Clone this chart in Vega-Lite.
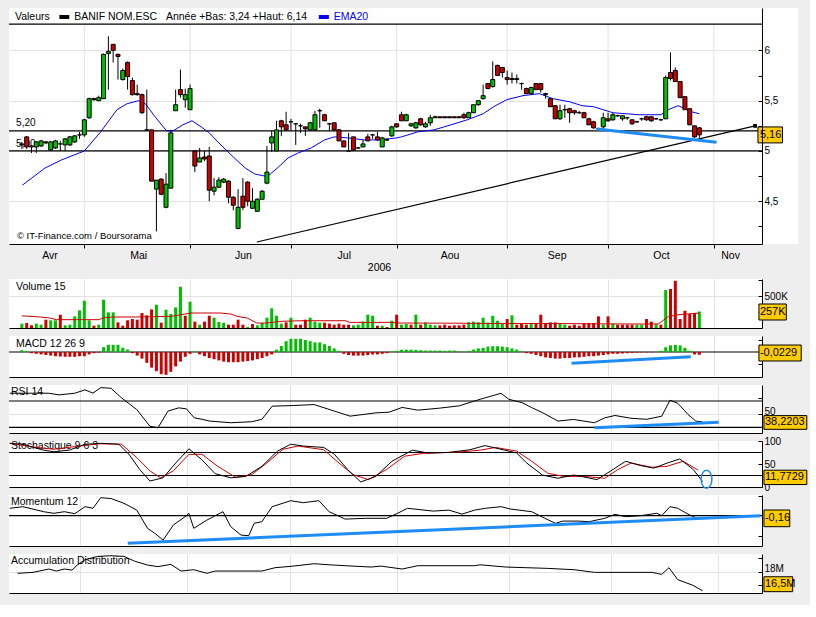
{
"$schema":"https://vega.github.io/schema/vega-lite/v6.json",
"background":"#EEEEEE",
"padding":{"left":7,"top":8,"right":2,"bottom":12},
"config":{"view":{"fill":"white","stroke":null},"font":"Liberation Sans",
"axis":{"labelFont":"Liberation Sans","labelFontSize":10,"labelColor":"black","domainColor":"black","tickColor":"black","gridColor":"#E2E2E2","titleFont":"Liberation Sans","titleFontSize":10.5,"titleFontWeight":"normal","titleColor":"black"},
"text":{"font":"Liberation Sans","fontSize":10.5,"color":"black"}},
"datasets":{
"months":[{"i":13},{"i":35},{"i":56},{"i":78},{"i":101},{"i":122},{"i":144}],
"d":[
{"i":0,"o":5.06,"h":5.09,"l":5.02,"c":5.07,"v":68,"m":0.015},
{"i":1,"o":5.14,"h":5.15,"l":5.02,"c":5.04,"v":78,"m":0.008},
{"i":2,"o":5.05,"h":5.06,"l":4.98,"c":5.04,"v":42,"m":-0.01},
{"i":3,"o":5.04,"h":5.10,"l":4.98,"c":5.09,"v":68,"m":-0.015},
{"i":4,"o":5.05,"h":5.11,"l":5.04,"c":5.10,"v":52,"m":-0.02},
{"i":5,"o":5.09,"h":5.10,"l":5.07,"c":5.08,"v":130,"m":-0.025},
{"i":6,"o":5.01,"h":5.10,"l":5.00,"c":5.09,"v":120,"m":-0.03},
{"i":7,"o":5.03,"h":5.11,"l":5.02,"c":5.10,"v":120,"m":-0.035},
{"i":8,"o":5.07,"h":5.10,"l":5.00,"c":5.07,"v":208,"m":-0.038},
{"i":9,"o":5.06,"h":5.13,"l":5.00,"c":5.12,"v":42,"m":-0.04},
{"i":10,"o":5.06,"h":5.15,"l":5.05,"c":5.14,"v":52,"m":-0.04},
{"i":11,"o":5.09,"h":5.16,"l":5.08,"c":5.15,"v":182,"m":-0.04},
{"i":12,"o":5.16,"h":5.19,"l":5.12,"c":5.16,"v":276,"m":-0.035},
{"i":13,"o":5.16,"h":5.32,"l":5.14,"c":5.31,"v":426,"m":-0.035},
{"i":14,"o":5.33,"h":5.53,"l":5.32,"c":5.52,"v":120,"m":-0.02},
{"i":15,"o":5.52,"h":5.53,"l":5.50,"c":5.51,"v":36,"m":-0.01},
{"i":16,"o":5.50,"h":5.55,"l":5.50,"c":5.53,"v":52,"m":-0.005},
{"i":17,"o":5.52,"h":5.97,"l":5.52,"c":5.96,"v":442,"m":0.04},
{"i":18,"o":5.97,"h":6.14,"l":5.61,"c":5.99,"v":244,"m":0.06},
{"i":19,"o":6.06,"h":6.06,"l":5.88,"c":6.00,"v":244,"m":0.06},
{"i":20,"o":5.96,"h":5.97,"l":5.71,"c":5.94,"v":88,"m":0.06},
{"i":21,"o":5.71,"h":5.82,"l":5.70,"c":5.80,"v":36,"m":0.035},
{"i":22,"o":5.88,"h":5.89,"l":5.61,"c":5.74,"v":120,"m":0.02},
{"i":23,"o":5.70,"h":5.73,"l":5.55,"c":5.56,"v":140,"m":-0.01},
{"i":24,"o":5.57,"h":5.66,"l":5.55,"c":5.56,"v":130,"m":-0.03},
{"i":25,"o":5.56,"h":5.57,"l":5.37,"c":5.38,"v":234,"m":-0.055},
{"i":26,"o":5.21,"h":5.61,"l":5.20,"c":5.21,"v":198,"m":-0.09},
{"i":27,"o":5.21,"h":5.21,"l":4.70,"c":4.70,"v":291,"m":-0.13},
{"i":28,"o":4.62,"h":4.71,"l":4.20,"c":4.71,"v":364,"m":-0.16},
{"i":29,"o":4.72,"h":4.73,"l":4.56,"c":4.57,"v":83,"m":-0.185},
{"i":30,"o":4.44,"h":4.78,"l":4.43,"c":4.67,"v":286,"m":-0.19},
{"i":31,"o":4.63,"h":5.21,"l":4.63,"c":5.18,"v":218,"m":-0.165},
{"i":32,"o":5.40,"h":5.61,"l":5.40,"c":5.46,"v":322,"m":-0.12},
{"i":33,"o":5.61,"h":5.81,"l":5.53,"c":5.56,"v":645,"m":-0.08},
{"i":34,"o":5.51,"h":5.62,"l":5.43,"c":5.56,"v":192,"m":-0.04},
{"i":35,"o":5.41,"h":5.66,"l":5.41,"c":5.62,"v":411,"m":-0.015},
{"i":36,"o":5.00,"h":5.00,"l":4.79,"c":4.85,"v":99,"m":0.005},
{"i":37,"o":4.89,"h":5.03,"l":4.89,"c":4.93,"v":52,"m":-0.02},
{"i":38,"o":4.94,"h":5.00,"l":4.90,"c":4.92,"v":99,"m":-0.035},
{"i":39,"o":4.95,"h":5.04,"l":4.50,"c":4.61,"v":192,"m":-0.05},
{"i":40,"o":4.60,"h":4.73,"l":4.56,"c":4.64,"v":161,"m":-0.06},
{"i":41,"o":4.64,"h":4.74,"l":4.63,"c":4.71,"v":94,"m":-0.07},
{"i":42,"o":4.69,"h":4.73,"l":4.68,"c":4.72,"v":83,"m":-0.08},
{"i":43,"o":4.70,"h":4.71,"l":4.48,"c":4.54,"v":52,"m":-0.085},
{"i":44,"o":4.54,"h":4.55,"l":4.41,"c":4.46,"v":52,"m":-0.085},
{"i":45,"o":4.23,"h":4.62,"l":4.22,"c":4.44,"v":130,"m":-0.085},
{"i":46,"o":4.55,"h":4.73,"l":4.41,"c":4.44,"v":52,"m":-0.08},
{"i":47,"o":4.69,"h":4.70,"l":4.45,"c":4.50,"v":16,"m":-0.075},
{"i":48,"o":4.43,"h":4.63,"l":4.43,"c":4.50,"v":62,"m":-0.07},
{"i":49,"o":4.40,"h":4.53,"l":4.40,"c":4.52,"v":42,"m":-0.06},
{"i":50,"o":4.52,"h":4.61,"l":4.52,"c":4.60,"v":78,"m":-0.05},
{"i":51,"o":4.68,"h":5.05,"l":4.67,"c":4.79,"v":161,"m":-0.035},
{"i":52,"o":5.08,"h":5.20,"l":4.99,"c":5.14,"v":307,"m":-0.02},
{"i":53,"o":5.00,"h":5.30,"l":5.00,"c":5.21,"v":192,"m":0.02},
{"i":54,"o":5.30,"h":5.31,"l":5.15,"c":5.24,"v":68,"m":0.05},
{"i":55,"o":5.26,"h":5.39,"l":5.20,"c":5.21,"v":88,"m":0.09},
{"i":56,"o":5.29,"h":5.32,"l":5.20,"c":5.29,"v":161,"m":0.11},
{"i":57,"o":5.27,"h":5.27,"l":5.06,"c":5.27,"v":52,"m":0.11},
{"i":58,"o":5.25,"h":5.27,"l":5.18,"c":5.25,"v":52,"m":0.11},
{"i":59,"o":5.24,"h":5.24,"l":5.15,"c":5.22,"v":130,"m":0.10},
{"i":60,"o":5.21,"h":5.29,"l":5.20,"c":5.28,"v":161,"m":0.09},
{"i":61,"o":5.21,"h":5.40,"l":5.20,"c":5.36,"v":99,"m":0.08},
{"i":62,"o":5.40,"h":5.42,"l":5.23,"c":5.40,"v":83,"m":0.08},
{"i":63,"o":5.36,"h":5.37,"l":5.30,"c":5.30,"v":83,"m":0.065},
{"i":64,"o":5.27,"h":5.28,"l":5.20,"c":5.27,"v":68,"m":0.05},
{"i":65,"o":5.28,"h":5.28,"l":5.20,"c":5.21,"v":52,"m":0.03},
{"i":66,"o":5.21,"h":5.22,"l":5.10,"c":5.10,"v":68,"m":0.01},
{"i":67,"o":5.10,"h":5.10,"l":5.04,"c":5.04,"v":52,"m":-0.015},
{"i":68,"o":5.00,"h":5.18,"l":5.00,"c":5.00,"v":52,"m":-0.025},
{"i":69,"o":5.14,"h":5.14,"l":5.00,"c":5.01,"v":42,"m":-0.03},
{"i":70,"o":5.03,"h":5.04,"l":5.02,"c":5.03,"v":52,"m":-0.03},
{"i":71,"o":5.04,"h":5.11,"l":5.04,"c":5.07,"v":99,"m":-0.03},
{"i":72,"o":5.14,"h":5.17,"l":5.10,"c":5.10,"v":208,"m":-0.025},
{"i":73,"o":5.16,"h":5.17,"l":5.12,"c":5.16,"v":192,"m":-0.02},
{"i":74,"o":5.14,"h":5.19,"l":5.10,"c":5.11,"v":36,"m":-0.02},
{"i":75,"o":5.04,"h":5.14,"l":5.04,"c":5.13,"v":36,"m":-0.015},
{"i":76,"o":5.11,"h":5.13,"l":5.10,"c":5.11,"v":16,"m":-0.01},
{"i":77,"o":5.15,"h":5.25,"l":5.14,"c":5.24,"v":114,"m":0.005},
{"i":78,"o":5.27,"h":5.27,"l":5.23,"c":5.24,"v":208,"m":0.01},
{"i":79,"o":5.36,"h":5.39,"l":5.30,"c":5.30,"v":52,"m":0.018},
{"i":80,"o":5.30,"h":5.37,"l":5.30,"c":5.36,"v":62,"m":0.02},
{"i":81,"o":5.25,"h":5.28,"l":5.24,"c":5.27,"v":52,"m":0.02},
{"i":82,"o":5.23,"h":5.29,"l":5.22,"c":5.28,"v":208,"m":0.018},
{"i":83,"o":5.32,"h":5.33,"l":5.25,"c":5.26,"v":52,"m":0.015},
{"i":84,"o":5.24,"h":5.29,"l":5.23,"c":5.27,"v":83,"m":0.012},
{"i":85,"o":5.28,"h":5.36,"l":5.25,"c":5.33,"v":52,"m":0.012},
{"i":86,"o":5.33,"h":5.35,"l":5.33,"c":5.34,"v":42,"m":0.012},
{"i":87,"o":5.34,"h":5.34,"l":5.33,"c":5.33,"v":42,"m":0.012},
{"i":88,"o":5.34,"h":5.34,"l":5.33,"c":5.33,"v":52,"m":0.01},
{"i":89,"o":5.34,"h":5.34,"l":5.33,"c":5.33,"v":36,"m":0.012},
{"i":90,"o":5.34,"h":5.34,"l":5.33,"c":5.33,"v":42,"m":0.012},
{"i":91,"o":5.34,"h":5.34,"l":5.33,"c":5.33,"v":42,"m":0.005},
{"i":92,"o":5.36,"h":5.38,"l":5.32,"c":5.33,"v":52,"m":0.003},
{"i":93,"o":5.33,"h":5.39,"l":5.33,"c":5.38,"v":88,"m":0.01},
{"i":94,"o":5.38,"h":5.46,"l":5.38,"c":5.46,"v":99,"m":0.02},
{"i":95,"o":5.46,"h":5.50,"l":5.45,"c":5.50,"v":88,"m":0.03},
{"i":96,"o":5.52,"h":5.66,"l":5.51,"c":5.55,"v":161,"m":0.035},
{"i":97,"o":5.67,"h":5.67,"l":5.62,"c":5.62,"v":83,"m":0.045},
{"i":98,"o":5.64,"h":5.89,"l":5.63,"c":5.71,"v":192,"m":0.048},
{"i":99,"o":5.85,"h":5.86,"l":5.75,"c":5.75,"v":114,"m":0.048},
{"i":100,"o":5.83,"h":5.83,"l":5.73,"c":5.78,"v":62,"m":0.045},
{"i":101,"o":5.73,"h":5.80,"l":5.66,"c":5.71,"v":140,"m":0.04},
{"i":102,"o":5.71,"h":5.78,"l":5.67,"c":5.72,"v":198,"m":0.03},
{"i":103,"o":5.72,"h":5.76,"l":5.67,"c":5.71,"v":52,"m":0.02},
{"i":104,"o":5.67,"h":5.68,"l":5.61,"c":5.67,"v":68,"m":0.005},
{"i":105,"o":5.62,"h":5.63,"l":5.57,"c":5.57,"v":52,"m":-0.01},
{"i":106,"o":5.57,"h":5.64,"l":5.56,"c":5.63,"v":62,"m":-0.015},
{"i":107,"o":5.67,"h":5.67,"l":5.61,"c":5.61,"v":62,"m":-0.025},
{"i":108,"o":5.67,"h":5.67,"l":5.58,"c":5.61,"v":208,"m":-0.035},
{"i":109,"o":5.57,"h":5.58,"l":5.52,"c":5.56,"v":68,"m":-0.045},
{"i":110,"o":5.52,"h":5.52,"l":5.44,"c":5.44,"v":88,"m":-0.05},
{"i":111,"o":5.45,"h":5.45,"l":5.32,"c":5.32,"v":88,"m":-0.055},
{"i":112,"o":5.32,"h":5.46,"l":5.31,"c":5.40,"v":68,"m":-0.055},
{"i":113,"o":5.41,"h":5.46,"l":5.33,"c":5.41,"v":52,"m":-0.05},
{"i":114,"o":5.42,"h":5.43,"l":5.28,"c":5.38,"v":36,"m":-0.05},
{"i":115,"o":5.40,"h":5.41,"l":5.36,"c":5.38,"v":52,"m":-0.045},
{"i":116,"o":5.38,"h":5.40,"l":5.37,"c":5.38,"v":36,"m":-0.045},
{"i":117,"o":5.38,"h":5.39,"l":5.33,"c":5.33,"v":68,"m":-0.04},
{"i":118,"o":5.32,"h":5.33,"l":5.26,"c":5.26,"v":78,"m":-0.035},
{"i":119,"o":5.29,"h":5.30,"l":5.22,"c":5.23,"v":78,"m":-0.035},
{"i":120,"o":5.22,"h":5.23,"l":5.21,"c":5.22,"v":182,"m":-0.03},
{"i":121,"o":5.24,"h":5.38,"l":5.22,"c":5.33,"v":52,"m":-0.025},
{"i":122,"o":5.32,"h":5.38,"l":5.29,"c":5.30,"v":182,"m":-0.02},
{"i":123,"o":5.31,"h":5.38,"l":5.30,"c":5.36,"v":68,"m":-0.015},
{"i":124,"o":5.35,"h":5.36,"l":5.34,"c":5.35,"v":52,"m":-0.015},
{"i":125,"o":5.32,"h":5.35,"l":5.30,"c":5.35,"v":52,"m":-0.012},
{"i":126,"o":5.33,"h":5.34,"l":5.31,"c":5.33,"v":52,"m":-0.01},
{"i":127,"o":5.31,"h":5.31,"l":5.26,"c":5.27,"v":52,"m":-0.008},
{"i":128,"o":5.29,"h":5.30,"l":5.28,"c":5.29,"v":52,"m":-0.005},
{"i":129,"o":5.32,"h":5.33,"l":5.30,"c":5.32,"v":52,"m":-0.003},
{"i":130,"o":5.34,"h":5.35,"l":5.30,"c":5.31,"v":140,"m":-0.003},
{"i":131,"o":5.34,"h":5.34,"l":5.29,"c":5.30,"v":100,"m":-0.002},
{"i":132,"o":5.32,"h":5.33,"l":5.31,"c":5.32,"v":60,"m":0.002},
{"i":133,"o":5.31,"h":5.32,"l":5.30,"c":5.31,"v":52,"m":0.01},
{"i":134,"o":5.32,"h":5.75,"l":5.32,"c":5.73,"v":594,"m":0.04},
{"i":135,"o":5.78,"h":5.98,"l":5.70,"c":5.72,"v":610,"m":0.055},
{"i":136,"o":5.80,"h":5.83,"l":5.69,"c":5.69,"v":738,"m":0.06},
{"i":137,"o":5.69,"h":5.69,"l":5.53,"c":5.53,"v":140,"m":0.055},
{"i":138,"o":5.54,"h":5.54,"l":5.41,"c":5.41,"v":270,"m":0.035},
{"i":139,"o":5.42,"h":5.42,"l":5.26,"c":5.26,"v":218,"m":0.01},
{"i":140,"o":5.25,"h":5.25,"l":5.13,"c":5.14,"v":234,"m":-0.02},
{"i":141,"o":5.23,"h":5.24,"l":5.13,"c":5.16,"v":257,"m":-0.0229}
],
"ema":[{"i":0.1,"y":4.66},{"i":4.8,"y":4.83},{"i":8.2,"y":4.91},{"i":13,"y":5.0},{"i":16.4,"y":5.19},{"i":19.8,"y":5.41},{"i":21.9,"y":5.47},{"i":24.3,"y":5.5},{"i":25.7,"y":5.47},{"i":27.4,"y":5.36},{"i":30.1,"y":5.2},{"i":31.5,"y":5.2},{"i":33.5,"y":5.26},{"i":35.4,"y":5.3},{"i":37.3,"y":5.24},{"i":39,"y":5.18},{"i":41,"y":5.08},{"i":44,"y":4.94},{"i":46.5,"y":4.83},{"i":48.5,"y":4.77},{"i":50.6,"y":4.75},{"i":51.7,"y":4.77},{"i":53.4,"y":4.84},{"i":55.4,"y":4.93},{"i":57.5,"y":4.98},{"i":60.2,"y":5.03},{"i":63,"y":5.11},{"i":65,"y":5.14},{"i":67.8,"y":5.13},{"i":71.2,"y":5.11},{"i":74.6,"y":5.11},{"i":78,"y":5.13},{"i":79,"y":5.14},{"i":82.4,"y":5.19},{"i":85.8,"y":5.21},{"i":89.3,"y":5.26},{"i":92.7,"y":5.31},{"i":96,"y":5.37},{"i":98.2,"y":5.44},{"i":100.9,"y":5.51},{"i":104.3,"y":5.55},{"i":107.7,"y":5.57},{"i":110.5,"y":5.52},{"i":113.9,"y":5.49},{"i":116.6,"y":5.45},{"i":119,"y":5.44},{"i":123,"y":5.38},{"i":128.5,"y":5.36},{"i":133,"y":5.36},{"i":134.5,"y":5.41},{"i":136.6,"y":5.45},{"i":138,"y":5.42},{"i":139.3,"y":5.39},{"i":141,"y":5.37}],
"vma":[{"i":0,"y":190},{"i":3.8,"y":172},{"i":5.8,"y":156},{"i":7.2,"y":130},{"i":16.1,"y":130},{"i":16.8,"y":156},{"i":18.8,"y":172},{"i":23.6,"y":172},{"i":31.1,"y":182},{"i":33.9,"y":218},{"i":35.2,"y":234},{"i":41.4,"y":234},{"i":43.5,"y":218},{"i":44.8,"y":182},{"i":46.9,"y":156},{"i":48.9,"y":78},{"i":51,"y":78},{"i":53.7,"y":104},{"i":58.5,"y":114},{"i":67.4,"y":114},{"i":68.1,"y":88},{"i":77,"y":88},{"i":78,"y":78},{"i":90,"y":75},{"i":100,"y":70},{"i":110,"y":70},{"i":120,"y":65},{"i":130,"y":62},{"i":132.5,"y":65},{"i":134.6,"y":182},{"i":137,"y":210},{"i":141,"y":234}],
"rsi":[{"i":-1.48,"y":81.8},{"i":6.53,"y":81.8},{"i":8.62,"y":79.3},{"i":11.87,"y":81.8},{"i":13.96,"y":86.9},{"i":15.6,"y":82},{"i":17.2,"y":90.2},{"i":19.3,"y":89.4},{"i":21.46,"y":74.8},{"i":24.6,"y":57},{"i":27.3,"y":31.7},{"i":28.95,"y":29.2},{"i":31,"y":54.6},{"i":33.2,"y":59.6},{"i":34.8,"y":58.1},{"i":36.4,"y":44.4},{"i":38,"y":42.2},{"i":39.6,"y":39.5},{"i":43.9,"y":37},{"i":48.2,"y":38.5},{"i":50.3,"y":42.2},{"i":52.4,"y":62.1},{"i":56.7,"y":63.1},{"i":61,"y":64.6},{"i":65.2,"y":54.6},{"i":68.4,"y":47},{"i":73.7,"y":52},{"i":76.4,"y":53},{"i":79.1,"y":60.2},{"i":82.3,"y":56.1},{"i":86.6,"y":59},{"i":90.8,"y":62.6},{"i":95.1,"y":72.6},{"i":99.4,"y":81.7},{"i":101,"y":72.6},{"i":103.7,"y":67.6},{"i":105.7,"y":60},{"i":107.9,"y":52.4},{"i":111.1,"y":39.5},{"i":114.3,"y":42},{"i":116.4,"y":39.5},{"i":118.6,"y":37},{"i":120.7,"y":44.4},{"i":122.8,"y":48},{"i":126.1,"y":43.8},{"i":129.3,"y":42.2},{"i":132.4,"y":46.9},{"i":134.1,"y":71.1},{"i":135.7,"y":66.6},{"i":137.8,"y":49.6},{"i":139.4,"y":39.5},{"i":140.8,"y":38.2}],
"sk":[{"i":-1.48,"y":95},{"i":1.19,"y":93},{"i":5.46,"y":80},{"i":7.6,"y":76.6},{"i":10.8,"y":80.3},{"i":13.96,"y":93},{"i":17.2,"y":95},{"i":20.9,"y":93},{"i":23,"y":71},{"i":25.2,"y":38},{"i":27.3,"y":13},{"i":30,"y":20},{"i":32.6,"y":52},{"i":35.3,"y":83},{"i":38,"y":59},{"i":40.7,"y":29},{"i":43.9,"y":20},{"i":47,"y":23},{"i":50.3,"y":45},{"i":53.5,"y":78},{"i":56.2,"y":93},{"i":58.8,"y":89},{"i":63,"y":86},{"i":65.2,"y":71},{"i":67.9,"y":38},{"i":70.6,"y":11},{"i":73.7,"y":23},{"i":77,"y":56},{"i":81.2,"y":80},{"i":84.4,"y":74},{"i":88.7,"y":75.2},{"i":93,"y":81},{"i":96.1,"y":90},{"i":99.4,"y":82},{"i":102.6,"y":74},{"i":104.7,"y":52},{"i":107.9,"y":26},{"i":111.1,"y":19},{"i":114.3,"y":26},{"i":116.4,"y":21.9},{"i":119.1,"y":16},{"i":121.8,"y":34},{"i":125,"y":56},{"i":128.1,"y":46.5},{"i":130.8,"y":41},{"i":133.5,"y":52},{"i":136.1,"y":61},{"i":138.9,"y":38},{"i":140.8,"y":11.8}],
"sd":[{"i":-1.48,"y":95},{"i":3.29,"y":87},{"i":7.6,"y":82},{"i":11.87,"y":88},{"i":17.2,"y":94},{"i":21.46,"y":93},{"i":24.6,"y":64},{"i":27.3,"y":35},{"i":29.5,"y":20},{"i":32.1,"y":35},{"i":35.3,"y":71},{"i":38,"y":71},{"i":41.2,"y":45},{"i":44.9,"y":21},{"i":48.2,"y":27},{"i":51.3,"y":52},{"i":54.6,"y":82},{"i":57.7,"y":89},{"i":63,"y":81},{"i":65.7,"y":56},{"i":69,"y":27},{"i":72.2,"y":16},{"i":75.9,"y":38},{"i":79.6,"y":67},{"i":83.4,"y":73},{"i":90.8,"y":76},{"i":95.1,"y":80},{"i":98.3,"y":86},{"i":102.6,"y":78},{"i":105.7,"y":56},{"i":109,"y":30},{"i":112.2,"y":23},{"i":116.4,"y":23},{"i":120.7,"y":19},{"i":123.4,"y":38},{"i":126.1,"y":52},{"i":130.3,"y":43},{"i":133.5,"y":45},{"i":136.8,"y":56},{"i":139.9,"y":36.6}],
"mom":[{"i":-1.48,"y":0.37},{"i":1.19,"y":0.45},{"i":3.29,"y":0.33},{"i":5.46,"y":0.2},{"i":7.6,"y":0.12},{"i":9.73,"y":0.2},{"i":11.87,"y":0.1},{"i":13.96,"y":0.45},{"i":15.6,"y":0.37},{"i":17.2,"y":0.9},{"i":19.3,"y":0.86},{"i":21.97,"y":0.62},{"i":24.6,"y":0.28},{"i":26.8,"y":-0.63},{"i":28.3,"y":-0.88},{"i":30,"y":-1.22},{"i":32.1,"y":-0.47},{"i":34.8,"y":0},{"i":35.3,"y":0.12},{"i":36.3,"y":-0.63},{"i":39,"y":-0.22},{"i":42.3,"y":0.2},{"i":43.9,"y":-0.55},{"i":46,"y":-0.97},{"i":47.6,"y":-1.0},{"i":48.7,"y":-0.38},{"i":50.3,"y":-0.3},{"i":52.4,"y":0.45},{"i":56.2,"y":0.75},{"i":58.8,"y":0.65},{"i":62,"y":0.75},{"i":64.1,"y":0.2},{"i":67.4,"y":-0.17},{"i":71.6,"y":-0.13},{"i":75.9,"y":-0.13},{"i":78,"y":0.1},{"i":80.2,"y":0.37},{"i":85.5,"y":0.23},{"i":88.7,"y":0.28},{"i":91.4,"y":0.08},{"i":94,"y":0.28},{"i":96.2,"y":0.37},{"i":99.4,"y":0.45},{"i":101.4,"y":0.33},{"i":105.7,"y":0.2},{"i":108.4,"y":-0.13},{"i":110.6,"y":-0.38},{"i":112.1,"y":-0.27},{"i":115.4,"y":-0.27},{"i":117.5,"y":-0.3},{"i":120.7,"y":-0.13},{"i":122.8,"y":0.07},{"i":125,"y":-0.05},{"i":128.1,"y":0},{"i":131.4,"y":0.12},{"i":132.4,"y":0},{"i":134.1,"y":0.45},{"i":135.7,"y":0.37},{"i":137.8,"y":0.08},{"i":139.4,"y":-0.1},{"i":140.8,"y":-0.16}],
"ad":[{"i":0.12,"y":17.88},{"i":3.29,"y":17.95},{"i":6.53,"y":18.2},{"i":8.1,"y":18.05},{"i":9.7,"y":18.2},{"i":11.3,"y":18.12},{"i":12.4,"y":18.5},{"i":13.96,"y":18.9},{"i":16.6,"y":19.15},{"i":19.3,"y":19.2},{"i":21.97,"y":19.15},{"i":24.1,"y":18.8},{"i":26.8,"y":18.5},{"i":28.95,"y":18.38},{"i":31.6,"y":18.55},{"i":33.7,"y":18.05},{"i":36.3,"y":18.15},{"i":39,"y":17.88},{"i":40.7,"y":18.05},{"i":50.3,"y":18.05},{"i":53,"y":18.3},{"i":56.7,"y":18.42},{"i":61,"y":18.6},{"i":64.1,"y":18.52},{"i":67.4,"y":18.45},{"i":72.7,"y":18.35},{"i":74.8,"y":18.42},{"i":79.1,"y":18.2},{"i":82.3,"y":18.45},{"i":94,"y":18.45},{"i":95.1,"y":18.52},{"i":100.4,"y":18.35},{"i":109,"y":18.25},{"i":114.4,"y":18.15},{"i":118.6,"y":17.95},{"i":130.4,"y":17.95},{"i":132.4,"y":17.8},{"i":133.9,"y":18.3},{"i":135.7,"y":17.4},{"i":138.8,"y":16.98},{"i":140.8,"y":16.57}]
},
"spacing":8,
"bounds":"flush",
"resolve":{"scale":{"x":"independent","y":"independent"}},
"vconcat":[
{"width":753,"height":236,
"resolve":{"axis":{"x":"independent","y":"independent"}},
"layer":[
{"data":{"values":[{}]},"mark":{"type":"rect","fill":"white"},"encoding":{"x":{"datum":153,"type":"quantitative","scale":{"domain":[-1.64,153],"zero":false,"nice":false},"axis":null},"x2":{"datum":161.6},"y":{"datum":4.075,"type":"quantitative","scale":{"domain":[4.075,6.4215],"zero":false,"nice":false},"axis":null},"y2":{"datum":6.4215}}},
{"data":{"name":"months"},"mark":{"type":"rule","color":"#E2E2E2"},"encoding":{"x":{"field":"i","type":"quantitative","scale":{"domain":[-1.64,153],"zero":false,"nice":false},"axis":null},"y":{"datum":4.075,"type":"quantitative","scale":{"domain":[4.075,6.4215],"zero":false,"nice":false},"axis":null},"y2":{"datum":6.262}}},
{"data":{"values":[{"y":5.2},{"y":5.0},{"y":6.262}]},"mark":{"type":"rule","color":"black","strokeWidth":1.2},"encoding":{"y":{"field":"y","type":"quantitative","scale":{"domain":[4.075,6.4215],"zero":false,"nice":false},"axis":null}}},
{"data":{"values":[{}]},"mark":{"type":"text","align":"left","baseline":"middle"},"encoding":{"x":{"datum":-1.44,"type":"quantitative","scale":{"domain":[-1.64,153],"zero":false,"nice":false},"axis":null},"y":{"datum":6.332,"type":"quantitative","scale":{"domain":[4.075,6.4215],"zero":false,"nice":false},"axis":null},"text":{"value":"Valeurs"}}},
{"data":{"values":[{}]},"mark":{"type":"rect","fill":"black"},"encoding":{"x":{"datum":7.8,"type":"quantitative","scale":{"domain":[-1.64,153],"zero":false,"nice":false},"axis":null},"x2":{"datum":9.86},"y":{"datum":6.312,"type":"quantitative","scale":{"domain":[4.075,6.4215],"zero":false,"nice":false},"axis":null},"y2":{"datum":6.352}}},
{"data":{"values":[{}]},"mark":{"type":"text","align":"left","baseline":"middle"},"encoding":{"x":{"datum":10.88,"type":"quantitative","scale":{"domain":[-1.64,153],"zero":false,"nice":false},"axis":null},"y":{"datum":6.332,"type":"quantitative","scale":{"domain":[4.075,6.4215],"zero":false,"nice":false},"axis":null},"text":{"value":"BANIF NOM.ESC"}}},
{"data":{"values":[{}]},"mark":{"type":"text","align":"left","baseline":"middle"},"encoding":{"x":{"datum":29.98,"type":"quantitative","scale":{"domain":[-1.64,153],"zero":false,"nice":false},"axis":null},"y":{"datum":6.332,"type":"quantitative","scale":{"domain":[4.075,6.4215],"zero":false,"nice":false},"axis":null},"text":{"value":"Année +Bas: 3,24 +Haut: 6,14"}}},
{"data":{"values":[{}]},"mark":{"type":"rect","fill":"#0000FF"},"encoding":{"x":{"datum":61.8,"type":"quantitative","scale":{"domain":[-1.64,153],"zero":false,"nice":false},"axis":null},"x2":{"datum":63.9},"y":{"datum":6.312,"type":"quantitative","scale":{"domain":[4.075,6.4215],"zero":false,"nice":false},"axis":null},"y2":{"datum":6.352}}},
{"data":{"values":[{}]},"mark":{"type":"text","align":"left","baseline":"middle","color":"#0000FF"},"encoding":{"x":{"datum":64.9,"type":"quantitative","scale":{"domain":[-1.64,153],"zero":false,"nice":false},"axis":null},"y":{"datum":6.332,"type":"quantitative","scale":{"domain":[4.075,6.4215],"zero":false,"nice":false},"axis":null},"text":{"value":"EMA20"}}},
{"data":{"values":[{}]},"mark":{"type":"text","align":"left","baseline":"middle","fontSize":9.5},"encoding":{"x":{"datum":-1.03,"type":"quantitative","scale":{"domain":[-1.64,153],"zero":false,"nice":false},"axis":null},"y":{"datum":4.155,"type":"quantitative","scale":{"domain":[4.075,6.4215],"zero":false,"nice":false},"axis":null},"text":{"value":"© IT-Finance.com / Boursorama"}}},
{"data":{"values":[{}]},"mark":{"type":"text","align":"left","baseline":"middle","fontSize":10},"encoding":{"x":{"datum":-1.2,"type":"quantitative","scale":{"domain":[-1.64,153],"zero":false,"nice":false},"axis":null},"y":{"datum":5.278,"type":"quantitative","scale":{"domain":[4.075,6.4215],"zero":false,"nice":false},"axis":null},"text":{"value":"5,20"}}},
{"data":{"values":[{}]},"mark":{"type":"text","align":"left","baseline":"middle","fontSize":10},"encoding":{"x":{"datum":-1.2,"type":"quantitative","scale":{"domain":[-1.64,153],"zero":false,"nice":false},"axis":null},"y":{"datum":5.07,"type":"quantitative","scale":{"domain":[4.075,6.4215],"zero":false,"nice":false},"axis":null},"text":{"value":"5,00"}}},
{"data":{"name":"ema"},"mark":{"type":"line","color":"#0000FF","strokeWidth":1},"encoding":{"x":{"field":"i","type":"quantitative","scale":{"domain":[-1.64,153],"zero":false,"nice":false},"axis":null},"y":{"field":"y","type":"quantitative","scale":{"domain":[4.075,6.4215],"zero":false,"nice":false},"axis":null}}},
{"data":{"values":[{"i":48.9,"y":4.095},{"i":152.6,"y":5.249}]},"mark":{"type":"line","color":"black","strokeWidth":1.2},"encoding":{"x":{"field":"i","type":"quantitative","scale":{"domain":[-1.64,153],"zero":false,"nice":false},"axis":null},"y":{"field":"y","type":"quantitative","scale":{"domain":[4.075,6.4215],"zero":false,"nice":false},"axis":null}}},
{"data":{"values":[{"i":152.6,"y":5.249}]},"mark":{"type":"square","color":"black","size":14,"opacity":1},"encoding":{"x":{"field":"i","type":"quantitative","scale":{"domain":[-1.64,153],"zero":false,"nice":false},"axis":null},"y":{"field":"y","type":"quantitative","scale":{"domain":[4.075,6.4215],"zero":false,"nice":false},"axis":null}}},
{"data":{"name":"d"},"mark":{"type":"rule","color":"black","strokeWidth":1},"encoding":{"x":{"field":"i","type":"quantitative","scale":{"domain":[-1.64,153],"zero":false,"nice":false},"axis":{"orient":"bottom","title":"2006","titleX":370,"values":[5.75,13,24.2,35,46,56,67,78,89,101,111.3,122,133,144,147.4],"labelExpr":"datum.value==5.75?'Avr':datum.value==24.2?'Mai':datum.value==46?'Jun':datum.value==67?'Jul':datum.value==89?'Aou':datum.value==111.3?'Sep':datum.value==133?'Oct':datum.value==147.4?'Nov':''","tickOpacity":{"condition":{"test":"indexof([13,35,56,78,101,122,144], datum.value) >= 0","value":1},"value":0},"tickSize":4,"labelPadding":2,"labelFontSize":10.5,"grid":false,"labelOverlap":false,"labelFlush":false,"titlePadding":2}},"y":{"field":"l","type":"quantitative","scale":{"domain":[4.075,6.4215],"zero":false,"nice":false},"axis":{"orient":"right","title":null,"zindex":1,"values":[4.25,4.5,4.75,5,5.25,5.5,5.75,6],"format":"~g","labelExpr":"(datum.value*4)%2==0 ? replace(datum.label,'.',',') : ''","grid":false,"tickSize":-4,"labelPadding":6}},"y2":{"field":"h"}}},
{"data":{"name":"d"},"mark":{"type":"bar","width":4,"stroke":"black","strokeWidth":1},"encoding":{"x":{"field":"i","type":"quantitative","scale":{"domain":[-1.64,153],"zero":false,"nice":false},"axis":null},"y":{"field":"o","type":"quantitative","scale":{"domain":[4.075,6.4215],"zero":false,"nice":false},"axis":{"orient":"right","title":null,"values":[4.5,5,5.5,6],"labels":false,"ticks":false,"domain":false,"grid":true},"stack":null},"y2":{"field":"c"},"fill":{"condition":{"test":"datum.c > datum.o","value":"#00BF00"},"value":"#CC0000"}}},
{"data":{"values":[{"i":119.7,"y":5.219},{"i":144.6,"y":5.086}]},"mark":{"type":"line","color":"#1E8CF5","strokeWidth":3},"encoding":{"x":{"field":"i","type":"quantitative","scale":{"domain":[-1.64,153],"zero":false,"nice":false},"axis":null},"y":{"field":"y","type":"quantitative","scale":{"domain":[4.075,6.4215],"zero":false,"nice":false},"axis":null}}},
{"data":{"values":[{}]},"mark":{"type":"rect","fill":"#FFCC00","stroke":"black","strokeWidth":1},"encoding":{"x":{"datum":153.2,"type":"quantitative","scale":{"domain":[-1.64,153],"zero":false,"nice":false},"axis":null},"x2":{"datum":158.3},"y":{"datum":5.08,"type":"quantitative","scale":{"domain":[4.075,6.4215],"zero":false,"nice":false},"axis":null},"y2":{"datum":5.239}}},
{"data":{"values":[{}]},"mark":{"type":"text","align":"left","baseline":"middle","fontSize":11},"encoding":{"x":{"datum":153.6,"type":"quantitative","scale":{"domain":[-1.64,153],"zero":false,"nice":false},"axis":null},"y":{"datum":5.16,"type":"quantitative","scale":{"domain":[4.075,6.4215],"zero":false,"nice":false},"axis":null},"text":{"value":"5,16"}}}
]},
{"width":753,"height":19,"view":{"fill":null,"stroke":null},"data":{"values":[{}]},"mark":{"type":"point","opacity":0},"encoding":{}},
{"width":753,"height":49,
"resolve":{"axis":{"x":"independent","y":"independent"}},
"layer":[
{"data":{"values":[{}]},"mark":{"type":"text","align":"left","baseline":"middle"},"encoding":{"x":{"datum":-1.23,"type":"quantitative","scale":{"domain":[-1.64,153],"zero":false,"nice":false},"axis":null},"y":{"datum":640,"type":"quantitative","scale":{"domain":[0,766],"zero":false,"nice":false},"axis":null},"text":{"value":"Volume 15"}}},
{"data":{"name":"d"},"transform":[{"window":[{"op":"lag","field":"c","as":"pc"}],"sort":[{"field":"i","order":"ascending"}]}],"mark":{"type":"bar","width":3},"encoding":{"x":{"field":"i","type":"quantitative","scale":{"domain":[-1.64,153],"zero":false,"nice":false},"axis":{"values":[13,35,56,78,101,122,144],"grid":true,"labels":false,"ticks":false,"domain":true,"title":null}},"y":{"field":"v","type":"quantitative","stack":null,"scale":{"domain":[0,766],"zero":false,"nice":false},"axis":{"orient":"right","title":null,"values":[250,500,750],"labelExpr":"datum.value==500?'500K':''","grid":true,"gridOpacity":{"condition":{"test":"datum.value==500","value":1},"value":0},"tickSize":-4,"labelPadding":6}},"fill":{"condition":{"test":"datum.pc == null || datum.c > datum.pc","value":"#00BF00"},"value":"#CC0000"}}},
{"data":{"name":"vma"},"mark":{"type":"line","color":"#CC0000","strokeWidth":1},"encoding":{"x":{"field":"i","type":"quantitative","scale":{"domain":[-1.64,153],"zero":false,"nice":false},"axis":null},"y":{"field":"y","type":"quantitative","scale":{"domain":[0,766],"zero":false,"nice":false},"axis":null}}},
{"data":{"values":[{}]},"mark":{"type":"rect","fill":"#FFCC00","stroke":"black","strokeWidth":1},"encoding":{"x":{"datum":153.4,"type":"quantitative","scale":{"domain":[-1.64,153],"zero":false,"nice":false},"axis":null},"x2":{"datum":159.1},"y":{"datum":125,"type":"quantitative","scale":{"domain":[0,766],"zero":false,"nice":false},"axis":null},"y2":{"datum":375}}},
{"data":{"values":[{}]},"mark":{"type":"text","align":"left","baseline":"middle","fontSize":11},"encoding":{"x":{"datum":153.6,"type":"quantitative","scale":{"domain":[-1.64,153],"zero":false,"nice":false},"axis":null},"y":{"datum":250,"type":"quantitative","scale":{"domain":[0,766],"zero":false,"nice":false},"axis":null},"text":{"value":"257K"}}}
]},
{"width":753,"height":41,
"resolve":{"axis":{"x":"independent","y":"independent"}},
"layer":[
{"data":{"values":[{}]},"mark":{"type":"text","align":"left","baseline":"middle"},"encoding":{"x":{"datum":-1.23,"type":"quantitative","scale":{"domain":[-1.64,153],"zero":false,"nice":false},"axis":null},"y":{"datum":0.067,"type":"quantitative","scale":{"domain":[-0.2083,0.1333],"zero":false,"nice":false},"axis":null},"text":{"value":"MACD 12 26 9"}}},
{"data":{"values":[{"y":0}]},"mark":{"type":"rule","color":"black","strokeWidth":1.2},"encoding":{"y":{"field":"y","type":"quantitative","scale":{"domain":[-0.2083,0.1333],"zero":false,"nice":false},"axis":null}}},
{"data":{"name":"d"},"mark":{"type":"bar","width":3},"encoding":{"x":{"field":"i","type":"quantitative","scale":{"domain":[-1.64,153],"zero":false,"nice":false},"axis":{"values":[13,35,56,78,101,122,144],"grid":true,"labels":false,"ticks":false,"domain":true,"title":null}},"y":{"field":"m","type":"quantitative","stack":null,"scale":{"domain":[-0.2083,0.1333],"zero":false,"nice":false},"axis":{"orient":"right","title":null,"values":[-0.1,0.1],"labels":false,"grid":false,"tickSize":-4}},"fill":{"condition":{"test":"datum.m >= 0","value":"#00BF00"},"value":"#CC0000"}}},
{"data":{"values":[{"i":114.4,"y":-0.094},{"i":139.2,"y":-0.039}]},"mark":{"type":"line","color":"#1E8CF5","strokeWidth":3},"encoding":{"x":{"field":"i","type":"quantitative","scale":{"domain":[-1.64,153],"zero":false,"nice":false},"axis":null},"y":{"field":"y","type":"quantitative","scale":{"domain":[-0.2083,0.1333],"zero":false,"nice":false},"axis":null}}},
{"data":{"values":[{}]},"mark":{"type":"rect","fill":"#FFCC00","stroke":"black","strokeWidth":1},"encoding":{"x":{"datum":153.4,"type":"quantitative","scale":{"domain":[-1.64,153],"zero":false,"nice":false},"axis":null},"x2":{"datum":162.2},"y":{"datum":-0.075,"type":"quantitative","scale":{"domain":[-0.2083,0.1333],"zero":false,"nice":false},"axis":null},"y2":{"datum":0.058}}},
{"data":{"values":[{}]},"mark":{"type":"text","align":"left","baseline":"middle","fontSize":11},"encoding":{"x":{"datum":153.6,"type":"quantitative","scale":{"domain":[-1.64,153],"zero":false,"nice":false},"axis":null},"y":{"datum":-0.008,"type":"quantitative","scale":{"domain":[-0.2083,0.1333],"zero":false,"nice":false},"axis":null},"text":{"value":"-0,0229"}}}
]},
{"width":753,"height":48,
"resolve":{"axis":{"x":"independent","y":"independent"}},
"layer":[
{"data":{"values":[{}]},"mark":{"type":"text","align":"left","baseline":"middle"},"encoding":{"x":{"datum":-1.23,"type":"quantitative","scale":{"domain":[-1.64,153],"zero":false,"nice":false},"axis":null},"y":{"datum":83.7,"type":"quantitative","scale":{"domain":[21.4,94.3],"zero":false,"nice":false},"axis":null},"text":{"value":"RSI 14"}}},
{"data":{"values":[{"y":70},{"y":30}]},"mark":{"type":"rule","color":"black","strokeWidth":1.2},"encoding":{"y":{"field":"y","type":"quantitative","scale":{"domain":[21.4,94.3],"zero":false,"nice":false},"axis":null}}},
{"data":{"name":"rsi"},"mark":{"type":"line","color":"black","strokeWidth":1},"encoding":{"x":{"field":"i","type":"quantitative","scale":{"domain":[-1.64,153],"zero":false,"nice":false},"axis":{"values":[13,35,56,78,101,122,144],"grid":true,"labels":false,"ticks":false,"domain":true,"title":null}},"y":{"field":"y","type":"quantitative","scale":{"domain":[21.4,94.3],"zero":false,"nice":false},"axis":{"orient":"right","title":null,"values":[50,75],"labelExpr":"datum.value==50?'50':''","labelBaseline":"alphabetic","grid":true,"gridOpacity":{"condition":{"test":"datum.value==50","value":1},"value":0},"tickSize":-4,"labelPadding":6}}}},
{"data":{"values":[{"i":118.6,"y":29.5},{"i":144.1,"y":37.7}]},"mark":{"type":"line","color":"#1E8CF5","strokeWidth":3},"encoding":{"x":{"field":"i","type":"quantitative","scale":{"domain":[-1.64,153],"zero":false,"nice":false},"axis":null},"y":{"field":"y","type":"quantitative","scale":{"domain":[21.4,94.3],"zero":false,"nice":false},"axis":null}}},
{"data":{"values":[{}]},"mark":{"type":"rect","fill":"#FFCC00","stroke":"black","strokeWidth":1},"encoding":{"x":{"datum":153.4,"type":"quantitative","scale":{"domain":[-1.64,153],"zero":false,"nice":false},"axis":null},"x2":{"datum":162.2},"y":{"datum":27,"type":"quantitative","scale":{"domain":[21.4,94.3],"zero":false,"nice":false},"axis":null},"y2":{"datum":47.8}}},
{"data":{"values":[{}]},"mark":{"type":"text","align":"left","baseline":"middle","fontSize":11},"encoding":{"x":{"datum":153.6,"type":"quantitative","scale":{"domain":[-1.64,153],"zero":false,"nice":false},"axis":null},"y":{"datum":37.5,"type":"quantitative","scale":{"domain":[21.4,94.3],"zero":false,"nice":false},"axis":null},"text":{"value":"38,2203"}}}
]},
{"width":753,"height":46,
"resolve":{"axis":{"x":"independent","y":"independent"}},
"layer":[
{"data":{"values":[{}]},"mark":{"type":"text","align":"left","baseline":"middle"},"encoding":{"x":{"datum":-1.23,"type":"quantitative","scale":{"domain":[-1.64,153],"zero":false,"nice":false},"axis":null},"y":{"datum":89,"type":"quantitative","scale":{"domain":[0,100],"zero":false,"nice":false},"axis":null},"text":{"value":"Stochastique 9 6 3"}}},
{"data":{"values":[{"y":75},{"y":25}]},"mark":{"type":"rule","color":"black","strokeWidth":1.2},"encoding":{"y":{"field":"y","type":"quantitative","scale":{"domain":[0,100],"zero":false,"nice":false},"axis":null}}},
{"data":{"name":"sd"},"mark":{"type":"line","color":"#D00000","strokeWidth":1},"encoding":{"x":{"field":"i","type":"quantitative","scale":{"domain":[-1.64,153],"zero":false,"nice":false},"axis":{"values":[13,35,56,78,101,122,144],"grid":true,"labels":false,"ticks":false,"domain":true,"title":null}},"y":{"field":"y","type":"quantitative","scale":{"domain":[0,100],"zero":false,"nice":false},"axis":{"orient":"right","title":null,"values":[0,50,100],"grid":false,"tickSize":-4,"labelPadding":6}}}},
{"data":{"name":"sk"},"mark":{"type":"line","color":"black","strokeWidth":1},"encoding":{"x":{"field":"i","type":"quantitative","scale":{"domain":[-1.64,153],"zero":false,"nice":false},"axis":null},"y":{"field":"y","type":"quantitative","scale":{"domain":[0,100],"zero":false,"nice":false},"axis":null}}},
{"data":{"values":[{}]},"mark":{"type":"point","shape":"M0,-1A0.6,1,0,1,1,0,1A0.6,1,0,1,1,0,-1Z","size":324,"filled":false,"stroke":"#1E8CF5","strokeWidth":1.5,"opacity":1},"encoding":{"x":{"datum":141.6,"type":"quantitative","scale":{"domain":[-1.64,153],"zero":false,"nice":false},"axis":null},"y":{"datum":16.8,"type":"quantitative","scale":{"domain":[0,100],"zero":false,"nice":false},"axis":null}}},
{"data":{"values":[{}]},"mark":{"type":"rect","fill":"#FFCC00","stroke":"black","strokeWidth":1},"encoding":{"x":{"datum":153.4,"type":"quantitative","scale":{"domain":[-1.64,153],"zero":false,"nice":false},"axis":null},"x2":{"datum":162.2},"y":{"datum":5.3,"type":"quantitative","scale":{"domain":[0,100],"zero":false,"nice":false},"axis":null},"y2":{"datum":36.5}}},
{"data":{"values":[{}]},"mark":{"type":"text","align":"left","baseline":"middle","fontSize":11},"encoding":{"x":{"datum":153.6,"type":"quantitative","scale":{"domain":[-1.64,153],"zero":false,"nice":false},"axis":null},"y":{"datum":21,"type":"quantitative","scale":{"domain":[0,100],"zero":false,"nice":false},"axis":null},"text":{"value":"11,7729"}}}
]},
{"width":753,"height":51,
"resolve":{"axis":{"x":"independent","y":"independent"}},
"layer":[
{"data":{"values":[{}]},"mark":{"type":"text","align":"left","baseline":"middle"},"encoding":{"x":{"datum":-1.23,"type":"quantitative","scale":{"domain":[-1.64,153],"zero":false,"nice":false},"axis":null},"y":{"datum":0.685,"type":"quantitative","scale":{"domain":[-1.515,1.035],"zero":false,"nice":false},"axis":null},"text":{"value":"Momentum 12"}}},
{"data":{"values":[{"y":0}]},"mark":{"type":"rule","color":"black","strokeWidth":1.2},"encoding":{"y":{"field":"y","type":"quantitative","scale":{"domain":[-1.515,1.035],"zero":false,"nice":false},"axis":null}}},
{"data":{"name":"mom"},"mark":{"type":"line","color":"black","strokeWidth":1},"encoding":{"x":{"field":"i","type":"quantitative","scale":{"domain":[-1.64,153],"zero":false,"nice":false},"axis":{"values":[13,35,56,78,101,122,144],"grid":true,"labels":false,"ticks":false,"domain":true,"title":null}},"y":{"field":"y","type":"quantitative","scale":{"domain":[-1.515,1.035],"zero":false,"nice":false},"axis":{"orient":"right","title":null,"values":[-1,1],"labels":false,"grid":false,"tickSize":-4}}}},
{"data":{"values":[{"i":22.75,"y":-1.38},{"i":152.7,"y":0}]},"mark":{"type":"line","color":"#1E8CF5","strokeWidth":3},"encoding":{"x":{"field":"i","type":"quantitative","scale":{"domain":[-1.64,153],"zero":false,"nice":false},"axis":null},"y":{"field":"y","type":"quantitative","scale":{"domain":[-1.515,1.035],"zero":false,"nice":false},"axis":null}}},
{"data":{"values":[{}]},"mark":{"type":"rect","fill":"#FFCC00","stroke":"black","strokeWidth":1},"encoding":{"x":{"datum":153.4,"type":"quantitative","scale":{"domain":[-1.64,153],"zero":false,"nice":false},"axis":null},"x2":{"datum":158.7},"y":{"datum":-0.55,"type":"quantitative","scale":{"domain":[-1.515,1.035],"zero":false,"nice":false},"axis":null},"y2":{"datum":0.285}}},
{"data":{"values":[{}]},"mark":{"type":"text","align":"left","baseline":"middle","fontSize":11},"encoding":{"x":{"datum":153.6,"type":"quantitative","scale":{"domain":[-1.64,153],"zero":false,"nice":false},"axis":null},"y":{"datum":-0.13,"type":"quantitative","scale":{"domain":[-1.515,1.035],"zero":false,"nice":false},"axis":null},"text":{"value":"-0,16"}}}
]},
{"width":753,"height":39,
"resolve":{"axis":{"x":"independent","y":"independent"}},
"layer":[
{"data":{"values":[{}]},"mark":{"type":"text","align":"left","baseline":"middle"},"encoding":{"x":{"datum":-1.23,"type":"quantitative","scale":{"domain":[-1.64,153],"zero":false,"nice":false},"axis":null},"y":{"datum":18.8,"type":"quantitative","scale":{"domain":[16.4,19.33],"zero":false,"nice":false},"axis":null},"text":{"value":"Accumulation Distribution"}}},
{"data":{"name":"ad"},"mark":{"type":"line","color":"black","strokeWidth":1},"encoding":{"x":{"field":"i","type":"quantitative","scale":{"domain":[-1.64,153],"zero":false,"nice":false},"axis":{"values":[13,35,56,78,101,122,144],"grid":true,"labels":false,"ticks":false,"domain":true,"title":null}},"y":{"field":"y","type":"quantitative","scale":{"domain":[16.4,19.33],"zero":false,"nice":false},"axis":{"orient":"right","title":null,"values":[17,18,19],"labelExpr":"datum.value==18?'18M':''","labelBaseline":"alphabetic","grid":true,"gridOpacity":{"condition":{"test":"datum.value==18","value":1},"value":0},"tickSize":-4,"labelPadding":6}}}},
{"data":{"values":[{}]},"mark":{"type":"rect","fill":"#FFCC00","stroke":"black","strokeWidth":1},"encoding":{"x":{"datum":153.4,"type":"quantitative","scale":{"domain":[-1.64,153],"zero":false,"nice":false},"axis":null},"x2":{"datum":159.3},"y":{"datum":16.5,"type":"quantitative","scale":{"domain":[16.4,19.33],"zero":false,"nice":false},"axis":null},"y2":{"datum":17.62}}},
{"data":{"values":[{}]},"mark":{"type":"text","align":"left","baseline":"middle","fontSize":11},"encoding":{"x":{"datum":153.6,"type":"quantitative","scale":{"domain":[-1.64,153],"zero":false,"nice":false},"axis":null},"y":{"datum":17.06,"type":"quantitative","scale":{"domain":[16.4,19.33],"zero":false,"nice":false},"axis":null},"text":{"value":"16,5M"}}}
]}
]
}
